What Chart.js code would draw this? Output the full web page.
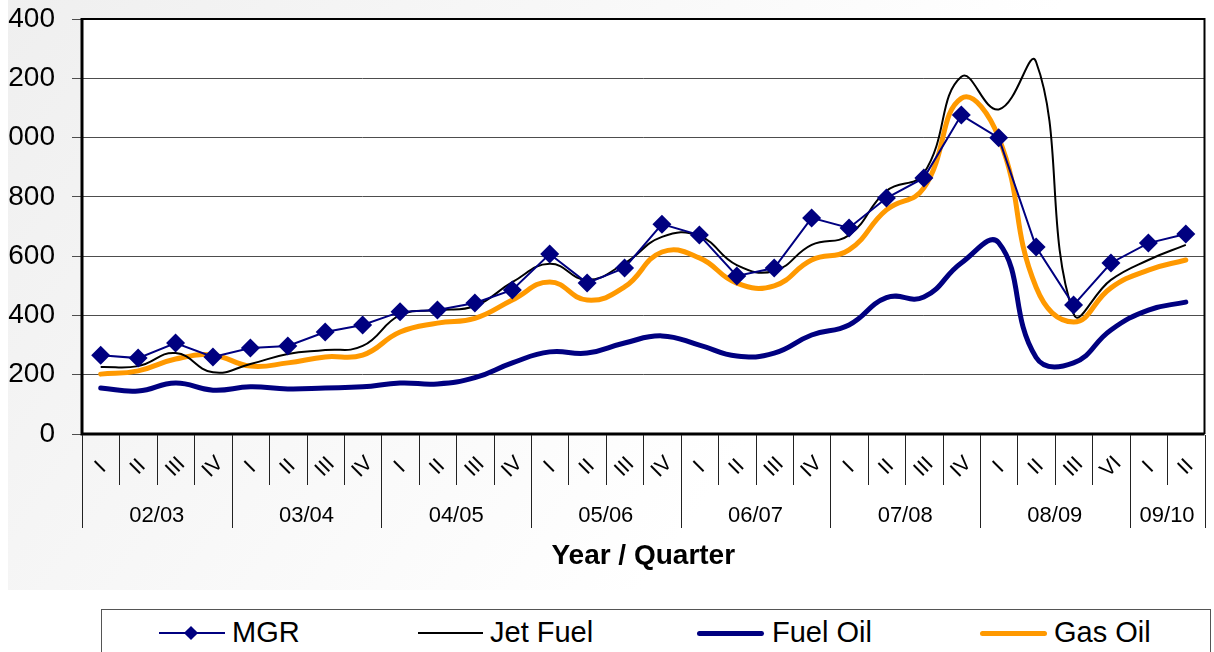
<!DOCTYPE html>
<html>
<head>
<meta charset="utf-8">
<script src="https://cdn.jsdelivr.net/npm/chart.js@4.4.1/dist/chart.umd.min.js"></script>
<style>
html,body{margin:0;padding:0;background:#fff;width:1214px;height:652px;overflow:hidden;font-family:"Liberation Sans",Arial,sans-serif;}
#wrap{position:absolute;left:8px;top:0;width:1206px;height:590px;}
#legend{position:absolute;left:101px;top:609px;width:1110px;height:60px;border:1px solid #555;background:#fff;box-sizing:border-box;}
.ln{position:absolute;top:22px;height:2px;}
.txt{position:absolute;top:8px;font-size:29px;line-height:29px;color:#000;white-space:nowrap;}
.dia{position:absolute;width:10px;height:10px;background:#000080;transform:rotate(45deg);}
</style>
</head>
<body>
<div id="wrap"><canvas id="c" width="1206" height="590"></canvas></div>
<div id="legend">
  <div class="ln" style="left:57px;width:66px;background:#000080;"></div>
  <div class="dia" style="left:84px;top:18px;"></div>
  <span class="txt" style="left:130px;">MGR</span>
  <div class="ln" style="left:316px;width:65px;background:#000;"></div>
  <span class="txt" style="left:388px;">Jet Fuel</span>
  <div class="ln" style="left:595px;width:67px;height:5px;top:21px;border-radius:3px;background:#000080;"></div>
  <span class="txt" style="left:670px;">Fuel Oil</span>
  <div class="ln" style="left:878px;width:67px;height:5px;top:21px;border-radius:3px;background:#FF9900;"></div>
  <span class="txt" style="left:952px;">Gas Oil</span>
</div>
<script>
// ---- data ----
const quarters = ['I','II','III','IV','I','II','III','IV','I','II','III','IV','I','II','III','IV','I','II','III','IV','I','II','III','IV','I','II','III','VI','I','II'];
const yearLabels = ['02/03','03/04','04/05','05/06','06/07','07/08','08/09','09/10'];
const yearSizes = [4,4,4,4,4,4,4,2];
const mgr = [266,256,307,260,290,297,344,368,412,418,442,486,607,509,560,708,671,533,560,729,695,796,864,1076,999,631,435,577,644,675];
const jetFuel = [226,229,273,208,236,270,283,297,401,418,432,512,574,520,576,665,668,570,550,638,671,820,880,1205,1095,1255,406,520,587,638];
const fuelOil = [155,145,172,148,159,152,155,159,172,169,190,240,277,273,307,331,300,263,273,334,368,460,462,577,645,258,240,351,418,445];
const gasOil = [202,213,253,266,229,240,260,266,344,374,390,452,513,452,496,614,594,509,500,587,621,756,830,1132,1000,495,378,493,553,587];
const yTicks = [0,200,400,600,800,1000,1200,1400];
const xTitle = 'Year / Quarter';

const FONT = '"Liberation Sans", Arial, sans-serif';

const decor = {
  id: 'decor',
  beforeDraw(chart) {
    const {ctx, chartArea: a, width, height} = chart;
    ctx.save();
    const g = ctx.createLinearGradient(0, 0, 700, 500);
    g.addColorStop(0, '#efefef');
    g.addColorStop(1, '#ffffff');
    ctx.fillStyle = g;
    ctx.fillRect(0, 0, width, height);
    ctx.fillStyle = '#ffffff';
    ctx.fillRect(a.left, a.top, a.right - a.left, a.bottom - a.top);
    ctx.restore();
  },
  afterDraw(chart) {
    const {ctx, chartArea: a, scales} = chart;
    const xs = scales.x;
    ctx.save();
    ctx.strokeStyle = '#000';
    ctx.lineWidth = 2;
    ctx.beginPath();
    ctx.moveTo(a.left, a.top); ctx.lineTo(a.right, a.top); ctx.lineTo(a.right, a.bottom);
    ctx.stroke();
    ctx.lineWidth = 3;
    ctx.beginPath();
    ctx.moveTo(a.left, a.top - 1); ctx.lineTo(a.left, a.bottom); ctx.lineTo(a.right, a.bottom);
    ctx.stroke();

    const n = quarters.length;
    const step = (xs.getPixelForValue(1) - xs.getPixelForValue(0));
    const boundary = k => xs.getPixelForValue(0) - step / 2 + k * step;
    const groupB = [0];
    yearSizes.forEach(s => groupB.push(groupB[groupB.length - 1] + s));
    ctx.strokeStyle = '#222';
    ctx.lineWidth = 1;
    for (let k = 0; k <= n; k++) {
      const x = Math.round(boundary(k)) + 0.5;
      const isGroup = groupB.includes(k);
      ctx.beginPath();
      ctx.moveTo(x, a.bottom + 1);
      ctx.lineTo(x, isGroup ? a.bottom + 94 : a.bottom + 51);
      ctx.stroke();
    }
    ctx.fillStyle = '#000';
    ctx.font = '21px ' + FONT;
    ctx.textAlign = 'center';
    ctx.textBaseline = 'middle';
    for (let i = 0; i < n; i++) {
      const x = xs.getPixelForValue(i);
      ctx.save();
      ctx.translate(x, a.bottom + 33);
      ctx.rotate(-Math.PI / 4);
      ctx.fillText(quarters[i], 0, 0);
      ctx.restore();
    }
    ctx.font = '22px ' + FONT;
    for (let j = 0; j < yearLabels.length; j++) {
      const x = (boundary(groupB[j]) + boundary(groupB[j + 1])) / 2;
      ctx.fillText(yearLabels[j], x, a.bottom + 82);
    }
    ctx.font = 'bold 28px ' + FONT;
    ctx.fillText(xTitle, (a.left + a.right) / 2, a.bottom + 122);
    ctx.restore();
  }
};

new Chart(document.getElementById('c'), {
  type: 'line',
  data: {
    labels: quarters,
    datasets: [
      {label: 'MGR', data: mgr, borderColor: '#000080', backgroundColor: '#000080', borderWidth: 2,
       pointStyle: 'rectRot', pointRadius: 9.5, pointBorderWidth: 0, tension: 0},
      {label: 'Jet Fuel', data: jetFuel, borderColor: '#000000', borderWidth: 2, pointRadius: 0, tension: 0.45},
      {label: 'Fuel Oil', data: fuelOil, borderColor: '#000080', borderWidth: 5, pointRadius: 0, tension: 0.45,
       borderCapStyle: 'round', borderJoinStyle: 'round'},
      {label: 'Gas Oil', data: gasOil, borderColor: '#FF9900', borderWidth: 5, pointRadius: 0, tension: 0.45,
       borderCapStyle: 'round', borderJoinStyle: 'round'}
    ]
  },
  options: {
    responsive: false,
    animation: false,
    devicePixelRatio: 1,
    layout: {padding: {top: 19, right: 3, bottom: 156, left: 0}},
    plugins: {legend: {display: false}, tooltip: {enabled: false}},
    scales: {
      x: {display: false, offset: true},
      y: {
        min: 0, max: 1400,
        afterBuildTicks: s => { s.ticks = yTicks.map(v => ({value: v})); },
        afterFit: s => { s.width = 74; s.paddingTop = 0; s.paddingBottom = 0; },
        border: {display: false},
        grid: {color: '#4d4d4d', lineWidth: 1, tickLength: 10, drawTicks: true},
        ticks: {color: '#000', padding: 17, font: {family: FONT, size: 28}}
      }
    }
  },
  plugins: [decor]
});
</script>
</body>
</html>
